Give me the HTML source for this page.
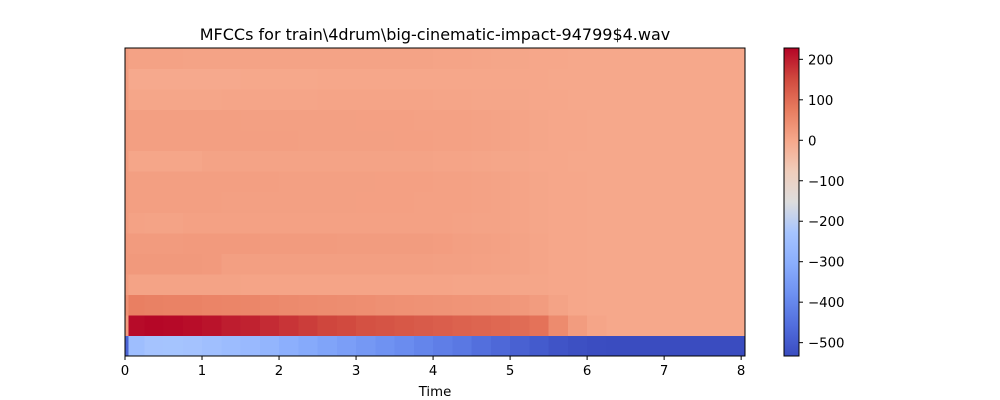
<!DOCTYPE html>
<html><head><meta charset="utf-8"><style>
html,body{margin:0;padding:0;background:#fff;}
svg{display:block;font-family:"DejaVu Sans","Liberation Sans",sans-serif;}
</style></head><body>
<svg id="chart" width="1000" height="400" viewBox="0 0 1000 400" xmlns="http://www.w3.org/2000/svg">
<text x="435" y="40" font-size="16" text-anchor="middle" fill="#000">MFCCs for train\4drum\big-cinematic-impact-94799$4.wav</text>
<g id="cells" shape-rendering="crispEdges"></g>
<rect x="125" y="48" width="620" height="308" fill="none" stroke="#000" stroke-width="1"/>
<g id="xaxis"></g>
<text x="435" y="396" font-size="13.3" text-anchor="middle">Time</text>
<defs><linearGradient id="cbg" x1="0" y1="1" x2="0" y2="0"></linearGradient></defs>
<rect x="784" y="48" width="15" height="308" fill="url(#cbg)" stroke="#000" stroke-width="1"/>
<g id="cbaxis"></g>
</svg>
<script>
const timeStep = 0.25;
const firstFrameDur = 0.04;
const duration = 8.05;
const vmin = -533, vmax = 228;
const xTicks = [0,1,2,3,4,5,6,7,8];
const cbTicks = [200,100,0,-100,-200,-300,-400,-500];
const firstFrame = [-480,20,40,20,25,25,20,20,20,20,20,20,20,20,20];
const r0 = [-250,-232,-230,-235,-245,-255,-265,-280,-300,-315,-330,-345,-360,-375,-390,-405,-420,-435,-455,-470,-485,-500,-515,-525,-530,-532,-532,-532,-532,-532,-532,-532,-532];
const r1 = [220,225,222,218,212,200,195,185,175,165,155,150,140,135,130,125,120,115,110,105,100,90,50,20,5,0,0,0,0,0,0,0,0];
const r2 = [70,68,66,65,62,60,58,55,52,50,48,46,44,42,40,38,36,34,32,30,28,20,8,2,0,0,0,0,0,0,0,0,0];
const r3 = [8,8,8,8,8,8,6,6,6,6,6,6,6,6,6,6,6,5,5,5,4,3,2,1,0,0,0,0,0,0,0,0,0];
const r4 = [25,25,25,25,24,16,15,15,15,15,15,15,15,15,15,15,14,14,12,10,8,5,2,1,0,0,0,0,0,0,0,0,0];
const r5 = [22,22,22,24,24,24,24,22,22,22,22,20,20,20,20,20,18,16,14,12,8,5,2,1,0,0,0,0,0,0,0,0,0];
const r6 = [10,8,8,12,12,12,12,12,12,12,12,12,12,12,12,12,11,10,9,8,6,4,2,1,0,0,0,0,0,0,0,0,0];
const r7 = [16,16,16,16,15,14,14,14,14,14,14,14,13,13,13,12,12,11,10,8,6,4,2,1,0,0,0,0,0,0,0,0,0];
const r8 = [15,15,15,15,15,15,15,15,14,14,14,14,14,13,13,13,12,11,10,8,6,4,2,1,0,0,0,0,0,0,0,0,0];
const r9 = [4,4,4,4,8,8,8,8,8,8,8,8,8,8,8,8,7,6,5,4,3,2,1,0,0,0,0,0,0,0,0,0,0];
const r10 = [16,16,15,15,15,15,15,15,15,14,14,14,14,14,13,13,12,11,10,8,6,4,2,1,0,0,0,0,0,0,0,0,0];
const r11 = [16,15,15,15,15,15,14,14,14,14,14,14,13,13,13,12,12,11,10,8,6,4,2,1,0,0,0,0,0,0,0,0,0];
const r12 = [4,3,3,3,3,5,5,5,5,5,6,6,6,6,6,6,5,5,4,4,3,2,1,0,0,0,0,0,0,0,0,0,0];
const r13 = [-3,-3,-3,-3,-3,-3,0,0,0,0,1,1,1,1,1,2,2,2,2,2,1,1,0,0,0,0,0,0,0,0,0,0,0];
const r14 = [10,10,10,9,9,9,9,9,9,9,8,8,8,8,8,8,7,6,5,4,3,2,1,0,0,0,0,0,0,0,0,0,0];
const rows = [r0,r1,r2,r3,r4,r5,r6,r7,r8,r9,r10,r11,r12,r13,r14];

const NS = "http://www.w3.org/2000/svg";
const L=125, R=745, T=48, B=356;
const xs = t => L + t*(R-L)/duration;
const rowH = (B-T)/rows.length;
const cy = v => T + (vmax-v)*(B-T)/(vmax-vmin);
const cmapTab = [[0,58,76,192],[0.1,82,110,221],[0.2,109,144,241],[0.3,138,174,253],[0.4,166,196,254],[0.5,221,221,221],[0.6,240,205,187],[0.7,246,168,139],[0.8,232,124,95],[0.9,208,73,62],[1,180,4,38]];
function cmap(v){
  let f=Math.max(0,Math.min(1,(v-vmin)/(vmax-vmin)));
  for(let i=1;i<cmapTab.length;i++){
    const a=cmapTab[i-1],b=cmapTab[i];
    if(f<=b[0]){const u=(f-a[0])/(b[0]-a[0]);
      return `rgb(${Math.round(a[1]+u*(b[1]-a[1]))},${Math.round(a[2]+u*(b[2]-a[2]))},${Math.round(a[3]+u*(b[3]-a[3]))})`;}
  }
  return "rgb(180,4,38)";
}
const cells=document.getElementById('cells');
function addCell(x0,x1,ri,v){
  const r=document.createElementNS(NS,'rect');
  
  
  r.setAttribute('x',x0.toFixed(2));
  r.setAttribute('y',(B-(ri+1)*rowH).toFixed(2));
  r.setAttribute('width',(x1-x0+0.5).toFixed(2));
  r.setAttribute('height',(rowH+0.5).toFixed(2));
  r.setAttribute('fill',cmap(v));
  cells.appendChild(r);
}
rows.forEach((row,ri)=>{
  row.forEach((v,ci)=>{
    const t0=ci*timeStep, t1=Math.min(duration,(ci+1)*timeStep);
    addCell(xs(t0),(ci===row.length-1)?R:xs(t1),ri,v);
  });
});
firstFrame.forEach((v,ri)=>{ addCell(xs(0),xs(firstFrameDur),ri,v); });
const xa=document.getElementById('xaxis');
xTicks.forEach(t=>{
  const x=xs(t);
  const l=document.createElementNS(NS,'line');
  
  
  l.setAttribute('x1',x);l.setAttribute('x2',x);l.setAttribute('y1',B);l.setAttribute('y2',B+4);l.setAttribute('stroke','#000');
  xa.appendChild(l);
  const s=document.createElementNS(NS,'text');
  
  
  s.setAttribute('x',x);s.setAttribute('y',B+19);s.setAttribute('font-size','13.3');s.setAttribute('text-anchor','middle');
  s.textContent=String(t);
  xa.appendChild(s);
});
const g=document.getElementById('cbg');
for(let i=0;i<=20;i++){
  const st=document.createElementNS(NS,'stop');
  st.setAttribute('offset',(i/20));
  st.setAttribute('stop-color',cmap(vmin+(vmax-vmin)*i/20));
  g.appendChild(st);
}
const cb=document.getElementById('cbaxis');
cbTicks.forEach(v=>{
  const y=cy(v);
  const l=document.createElementNS(NS,'line');
  
  
  l.setAttribute('x1',799);l.setAttribute('x2',803);l.setAttribute('y1',y);l.setAttribute('y2',y);l.setAttribute('stroke','#000');
  cb.appendChild(l);
  const s=document.createElementNS(NS,'text');
  
  
  s.setAttribute('x',808);s.setAttribute('y',y+5);s.setAttribute('font-size','13.3');
  s.textContent=v<0?'\u2212'+Math.abs(v):String(v);
  cb.appendChild(s);
});
</script>
</body></html>
